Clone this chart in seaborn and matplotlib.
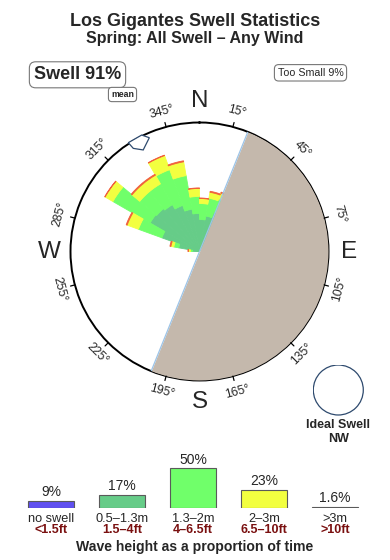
import numpy as np
import pandas as pd
import matplotlib
matplotlib.use("Agg")
import matplotlib.pyplot as plt
from matplotlib.patches import Circle
import seaborn as sns

# ---------------- data ----------------
# swell rose: direction bins (degrees, bin start), radial lengths (rim = 100)
dir_bins = [270, 280, 290, 300, 310, 320, 330, 340, 350, 0, 10, 20]
r_small = [5.4, 16.3, 31.0, 44.2, 43.4, 41.9, 38.0, 33.3, 29.5, 24.8, 27.9, 32.6]   # 0.5-1.3m
r_mid = [1.6, 3.9, 19.4, 33.3, 17.1, 18.6, 29.5, 26.4, 13.2, 12.4, 14.0, 10.9]      # 1.3-2m
r_big = [1.6, 2.3, 9.3, 7.0, 7.8, 7.8, 11.6, 10.9, 6.2, 3.9, 4.7, 4.7]             # 2-3m
r_huge = [0.4, 0.8, 0.8, 0.4, 0.8, 0.8, 0.4, 0.8, 0.4, 0.4, 0.8, 0.8]              # >3m
bin_width = 10
coast_dir = 22          # land lies clockwise from here for 180 deg
mean_dir = 330

deg_labels = [15, 45, 75, 105, 135, 165, 195, 225, 255, 285, 315, 345]
compass = ["N", "E", "S", "W"]
compass_dirs = [0, 90, 180, 270]

# legend
leg_cats = ["no swell", "0.5\u20131.3m", "1.3\u20132m", "2\u20133m", ">3m"]
leg_ft = ["<1.5ft", "1.5\u20134ft", "4\u20136.5ft", "6.5\u201310ft", ">10ft"]
leg_pct = [9, 17, 50, 23, 1.6]
leg_pct_text = ["9%", "17%", "50%", "23%", "1.6%"]

# colours
c_none = "#6050F0"
c_small = "#66CC88"
c_mid = "#70FF6A"
c_big = "#F2FF40"
c_huge = "#F0603C"
c_huge_leg = "#8E3A34"
c_land = "#C4B8AC"
c_coast = "#9CC4E8"
c_dark = "#2E4A6E"
c_ftred = "#7A1010"

# ---------------- figure ----------------
sns.set_theme(style="white")
plt.rcParams["font.family"] = ["Liberation Sans", "DejaVu Sans"]

W, H = 390, 560
fig = plt.figure(figsize=(W / 100, H / 100), dpi=100)

def fx(px):
    return px / W

def fy(py):
    return 1 - py / H

# titles
fig.text(0.5, fy(25.5), "Los Gigantes Swell Statistics", ha="center", va="baseline",
         fontsize=13, fontweight="bold")
fig.text(0.5, fy(42.5), "Spring: All Swell \u2013 Any Wind", ha="center", va="baseline",
         fontsize=11.5, fontweight="bold")

box = dict(boxstyle="round,pad=0.25,rounding_size=0.35", fc="white", ec="#777777", lw=0.8)
fig.text(fx(77.5), fy(74.8), "Swell 91%", ha="center", va="center", fontsize=13,
         fontweight="bold", bbox=box)
fig.text(fx(310.5), fy(72.8), "Too Small 9%", ha="center", va="center", fontsize=7.7,
         bbox=dict(boxstyle="round,pad=0.3,rounding_size=0.4", fc="white", ec="#777777", lw=0.8))
fig.text(fx(122.5), fy(94.5), "mean", ha="center", va="center", fontsize=6.3,
         fontweight="bold",
         bbox=dict(boxstyle="round,pad=0.3,rounding_size=0.4", fc="white", ec="#777777", lw=0.8))

# ---------------- rose ----------------
cx, cy, R = 199.5, 251.5, 129
ax = fig.add_axes([fx(cx - R), 1 - (cy + R) / H, 2 * R / W, 2 * R / H], projection="polar")
ax.set_theta_zero_location("N")
ax.set_theta_direction(-1)
ax.set_ylim(0, 100)
ax.grid(False)
ax.set_xticks([])
ax.set_yticks([])
ax.spines["polar"].set_linewidth(1.4)
ax.spines["polar"].set_color("black")
ax.set_facecolor("white")

theta = np.deg2rad(np.array(dir_bins) + bin_width / 2)
wid = np.deg2rad(bin_width)
bottom = np.zeros(len(dir_bins))
for vals, col in [(r_small, c_small), (r_mid, c_mid), (r_big, c_big), (r_huge, c_huge)]:
    v = np.array(vals)
    ax.bar(theta, v, width=wid, bottom=bottom, color=col, edgecolor=col, linewidth=0.6,
           align="center", zorder=2)
    bottom = bottom + v

# land
th_land = np.deg2rad(np.linspace(coast_dir, coast_dir + 180, 200))
ax.fill_between(th_land, 0, 100, color=c_land, lw=0, zorder=3)
for d in [coast_dir, coast_dir + 180]:
    ax.plot([np.deg2rad(d)] * 2, [0, 100], color=c_coast, lw=0.9, zorder=4)

# mean marker
mk_dt = np.array([-3.2, -2.7, 1.0, 6.2, 3.6, -3.2])
mk_r = np.array([100.8, 95.0, 90.0, 96.4, 100.8, 100.8])
ax.fill(np.deg2rad(mean_dir + mk_dt), mk_r, facecolor="white", edgecolor=c_dark,
        lw=0.9, zorder=6, clip_on=False)

# ticks and labels
for d in deg_labels:
    t = np.deg2rad(d)
    ax.plot([t, t], [100, 103.5], color="black", lw=0.9, clip_on=False, zorder=6)
    rot = -d
    while rot < -90:
        rot += 180
    while rot > 90:
        rot -= 180
    ax.text(t, 112.4, f"{d}\u00b0", rotation=rot, rotation_mode="anchor",
            ha="center", va="center", fontsize=8.8, clip_on=False)
for lab, d in zip(compass, compass_dirs):
    ax.text(np.deg2rad(d), 116.3, lab, ha="center", va="center", fontsize=17.5,
            clip_on=False)

# ideal swell
ax3 = fig.add_axes([fx(338.3 - 25.5), 1 - (390 + 25.5) / H, 51 / W, 51 / H])
ax3.axis("off")
ax3.add_patch(Circle((0.5, 0.5), 0.49, transform=ax3.transAxes, fc="white",
                     ec=c_dark, lw=0.9))
fig.text(fx(338.5), fy(425), "Ideal Swell", ha="center", va="center", fontsize=9,
         fontweight="bold")
fig.text(fx(338.5), fy(439), "NW", ha="center", va="center", fontsize=9,
         fontweight="bold")

# ---------------- legend (seaborn bars) ----------------
base_px = 508.3
ax2 = fig.add_axes([fx(15.5), fy(base_px), fx(355), 48 / H])
df = pd.DataFrame({"cat": leg_cats, "pct": leg_pct})
sns.barplot(data=df, x="cat", y="pct", hue="cat", legend=False,
            palette=[c_none, c_small, c_mid, c_big, c_huge_leg], width=0.65,
            saturation=1, edgecolor="#5a5a5a", linewidth=0.8, ax=ax2)
ax2.set_xlim(-0.5, 4.5)
ax2.set_ylim(0, 60)
ax2.axis("off")
for i, (p, pt) in enumerate(zip(leg_pct, leg_pct_text)):
    ax2.annotate(pt, (i, p), xytext=(0, 6.2), textcoords="offset points",
                 ha="center", va="center", fontsize=10, annotation_clip=False)
    ax2.text(i, -10.2 / 48, leg_cats[i], transform=ax2.get_xaxis_transform(),
             ha="center", va="center", fontsize=9.2)
    ax2.text(i, -21.8 / 48, leg_ft[i], transform=ax2.get_xaxis_transform(),
             ha="center", va="center", fontsize=9, fontweight="bold", color=c_ftred)
fig.text(0.5, fy(546.5), "Wave height as a proportion of time", ha="center",
         va="center", fontsize=10.1, fontweight="bold")

fig.savefig("out.png", dpi=100)
